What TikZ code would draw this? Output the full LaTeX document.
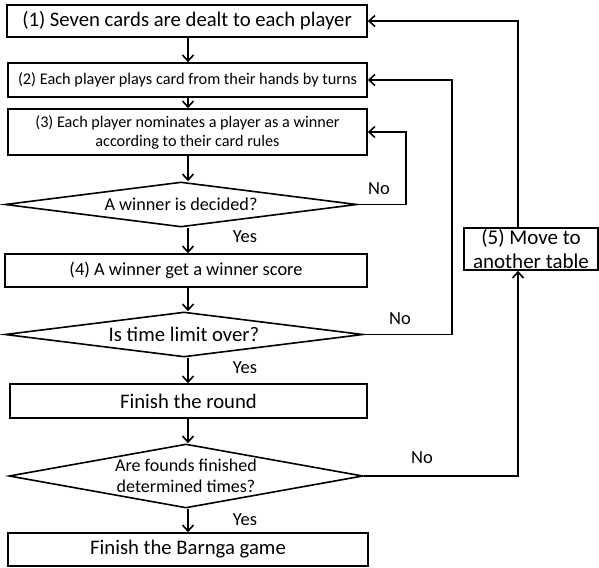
\documentclass[tikz,border=0pt]{standalone}
\usepackage{fontspec}
\setmainfont{Carlito}
\usetikzlibrary{arrows.meta,shapes.geometric}
\begin{document}
\begin{tikzpicture}[x=1pt,y=-1pt,
  box/.style={draw, rectangle, line width=1.6pt, inner sep=0pt, align=center},
  dec/.style={draw, diamond, line width=1.6pt, inner sep=0pt, align=center},
  big/.style={font=\fontsize{20.7}{24}\selectfont},
  arr/.style={-{Straight Barb[length=6pt,width=11pt,line width=1.6pt]}, line width=1.6pt},
  lbl/.style={font=\fontsize{18.5}{21}\selectfont, inner sep=0pt}]
\useasboundingbox (0,0) rectangle (599,567);
\node[box, big, minimum width=360pt, minimum height=32pt] (b1) at (187,21) {(1) Seven cards are dealt to each player};
\node[box, font=\fontsize{16.3}{19}\selectfont, minimum width=359pt, minimum height=34pt] (b2) at (187.5,80) {(2) Each player plays card from their hands by turns};
\node[box, font=\fontsize{16.2}{19}\selectfont, minimum width=359pt, minimum height=46pt] (b3) at (187.5,132) {(3) Each player nominates a player as a winner\\according to their card rules};
\node[dec, font=\fontsize{18.2}{21}\selectfont, aspect=7.8, minimum width=352pt, minimum height=45pt] (d1) at (181,204.5) {A winner is decided?};
\node[box, font=\fontsize{18.4}{22}\selectfont, minimum width=362pt, minimum height=33pt] (b4) at (186,270.5) {(4) A winner get a winner score};
\node[dec, big, aspect=8, minimum width=358pt, minimum height=45pt] (d2) at (184,334.5) {Is time limit over?};
\node[box, big, minimum width=357pt, minimum height=34pt] (b6) at (188.5,401) {Finish the round};
\node[dec, font=\fontsize{18}{21}\selectfont, aspect=5.5, inner ysep=-5pt, minimum width=354pt, minimum height=64pt] (d3) at (186,476) {Are founds finished\\determined times?};
\node[box, big, minimum width=360pt, minimum height=33pt] (b7) at (188,549.5) {Finish the Barnga game};
\node[box, font=\fontsize{21}{24}\selectfont, inner ysep=-2pt, minimum width=134pt, minimum height=42pt] (b5) at (531,249) {(5) Move to\\another table};

\coordinate (cx) at (188,0);
\draw[arr] (cx |- b1.south) -- (cx |- b2.north);
\draw[arr] (cx |- b2.south) -- (cx |- b3.north);
\draw[arr] (cx |- b3.south) -- (cx |- d1.north);
\draw[arr] (cx |- d1.south) -- (cx |- b4.north);
\draw[arr] (cx |- b4.south) -- (cx |- d2.north);
\draw[arr] (cx |- d2.south) -- (cx |- b6.north);
\draw[arr] (cx |- b6.south) -- (cx |- d3.north);
\draw[arr] (cx |- d3.south) -- (cx |- b7.north);

\coordinate (xi) at (406,0);
\coordinate (xm) at (452,0);
\coordinate (xo) at (518,0);
\draw[arr] (d1.east) -- (xi |- d1.east) -- (xi |- b3.east) -- (b3.east);
\draw[arr] (d2.east) -- (xm |- d2.east) -- (xm |- b2.east) -- (b2.east);
\draw[arr] (d3.east) -- (xo |- d3.east) -- (xo |- b5.south);
\draw[arr] (xo |- b5.north) -- (xo |- b1.east) -- (b1.east);

\node[lbl] (y1) at (245,237) {Yes};
\node[lbl] (y2) at (245,368) {Yes};
\node[lbl] (y3) at (245,520) {Yes};
\node[lbl] (n1) at (379,189) {No};
\node[lbl] (n2) at (400,319) {No};
\node[lbl] (n3) at (422,458) {No};
\end{tikzpicture}
\end{document}
